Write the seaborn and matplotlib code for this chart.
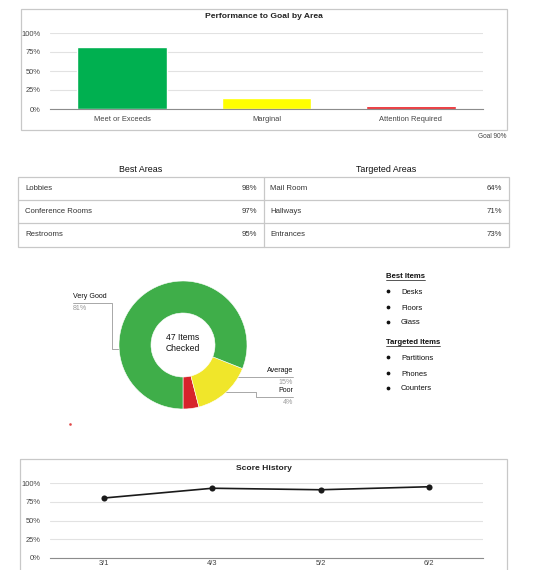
import matplotlib
matplotlib.use('Agg')
import matplotlib.pyplot as plt
import pandas as pd
import seaborn as sns
from matplotlib.patches import Rectangle

W, H = 547, 570

# ---- data ----
goal_cats = ['Meet or Exceeds', 'Marginal', 'Attention Required']
goal_vals = [0.81, 0.15, 0.04]
goal_colors = ['#00b050', '#ffff00', '#e8141b']

best_areas = ['Lobbies', 'Conference Rooms', 'Restrooms']
best_scores = [98, 97, 95]
target_areas = ['Mail Room', 'Hallways', 'Entrances']
target_scores = [64, 71, 73]

rating_labels = ['Poor', 'Average', 'Very Good']
rating_shares = [4, 15, 81]
rating_colors = ['#d7242b', '#f0e62a', '#3fae49']
items_checked = 47

best_items = ['Desks', 'Floors', 'Glass']
target_items = ['Partitions', 'Phones', 'Counters']

hist_dates = ['3/1', '4/3', '5/2', '6/2']
hist_scores = [0.80, 0.93, 0.91, 0.95]

pct_ticks = [0, 0.25, 0.5, 0.75, 1.0]
pct_labels = ['0%', '25%', '50%', '75%', '100%']

GRID = '#e2e2e2'
BOX = '#c8c8c8'
TXT = '#333333'
LEAD = '#9a9a9a'

sns.set_theme(style='white')
plt.rcParams['font.family'] = ['Liberation Sans', 'DejaVu Sans']

fig = plt.figure(figsize=(W / 100, H / 100), dpi=100)
fig.patch.set_facecolor('white')

# overlay axes in pixel coordinates for boxes, tables and labels
over = fig.add_axes([0, 0, 1, 1])
over.set_xlim(0, W)
over.set_ylim(H, 0)
over.axis('off')


def px_ax(x0, y0, x1, y1):
    return fig.add_axes([x0 / W, 1 - y1 / H, (x1 - x0) / W, (y1 - y0) / H])


def pct_axis(ax):
    ax.set_ylim(0, 1)
    ax.set_yticks(pct_ticks)
    ax.set_yticklabels(pct_labels)
    ax.yaxis.grid(True, color=GRID, lw=0.8)
    ax.set_axisbelow(True)
    for s in ['top', 'right', 'left']:
        ax.spines[s].set_visible(False)
    ax.spines['bottom'].set_color('#8c8c8c')
    ax.spines['bottom'].set_linewidth(0.8)
    ax.tick_params(axis='both', length=0, labelsize=5.4, labelcolor='#444444')
    ax.tick_params(axis='y', pad=7)
    ax.set_xlabel('')
    ax.set_ylabel('')
    ax.patch.set_alpha(0)


# ---- performance to goal ----
over.add_patch(Rectangle((21, 9), 486, 121, fill=False, ec=BOX, lw=0.9))
over.text(264, 17, 'Performance to Goal by Area', ha='center', va='center',
          fontsize=6.1, fontweight='bold', color='#222222')
ax1 = px_ax(50, 33, 483, 109)
df_goal = pd.DataFrame({'cat': goal_cats, 'val': goal_vals})
sns.barplot(data=df_goal, x='cat', y='val', hue='cat', palette=goal_colors,
            width=0.62, saturation=1, legend=False, ax=ax1)
pct_axis(ax1)
ax1.tick_params(axis='x', pad=5)
over.text(506, 136, 'Goal 90%', ha='right', va='center', fontsize=4.7, color='#444444')

# ---- tables ----
over.text(141, 169, 'Best Areas', ha='center', va='center', fontsize=6.4, color='#111111')
over.text(386, 169, 'Targeted Areas', ha='center', va='center', fontsize=6.4, color='#111111')
over.add_patch(Rectangle((18, 177), 491, 70, fill=False, ec=BOX, lw=0.9))
for yy in [200, 223]:
    over.plot([18, 509], [yy, yy], color=BOX, lw=0.9)
over.plot([264, 264], [177, 247], color=BOX, lw=0.9)
row_y = [188.5, 211.5, 235]
for i, yy in enumerate(row_y):
    over.text(25, yy, best_areas[i], ha='left', va='center', fontsize=5.6, color=TXT)
    over.text(257, yy, f'{best_scores[i]}%', ha='right', va='center', fontsize=5.6, color=TXT)
    over.text(270, yy, target_areas[i], ha='left', va='center', fontsize=5.6, color=TXT)
    over.text(502, yy, f'{target_scores[i]}%', ha='right', va='center', fontsize=5.6, color=TXT)

# ---- donut ----
ax2 = px_ax(119, 281, 247, 409)
ax2.pie(rating_shares, colors=rating_colors, startangle=-90, counterclock=True,
        radius=1, wedgeprops=dict(width=0.5, edgecolor='white', linewidth=0.4))
ax2.set_aspect('auto')
ax2.set_xlim(-1, 1)
ax2.set_ylim(-1, 1)
over.text(183, 343, f'{items_checked} Items\nChecked', ha='center', va='center',
          fontsize=6.2, color='#111111', linespacing=1.3)

# leader labels
over.text(73, 297, rating_labels[2], ha='left', va='center', fontsize=5.1, color='#111111')
over.text(73, 309, f'{rating_shares[2]}%', ha='left', va='center', fontsize=5.1, color='#999999')
over.plot([73, 112, 112, 137], [303, 303, 349, 349], color=LEAD, lw=0.6)
over.plot(137, 349, 'o', ms=1.3, color='#808080')

over.text(293, 371, rating_labels[1], ha='right', va='center', fontsize=5.1, color='#111111')
over.text(293, 382, f'{rating_shares[1]}%', ha='right', va='center', fontsize=5.1, color='#999999')
over.plot([293, 218], [376.5, 376.5], color=LEAD, lw=0.6)
over.plot(218, 376.5, 'o', ms=1.3, color='#808080')

over.text(293, 391, rating_labels[0], ha='right', va='center', fontsize=5.1, color='#111111')
over.text(293, 403, f'{rating_shares[0]}%', ha='right', va='center', fontsize=5.1, color='#999999')
over.plot([293, 256, 256, 189], [397, 397, 392.3, 392.3], color=LEAD, lw=0.6)
over.plot(189, 392.3, 'o', ms=1.3, color='#808080')

over.plot(70, 424, 's', ms=0.8, color='#e04848')

# ---- item lists ----
heads = []
heads.append(over.text(386, 276, 'Best Items', ha='left', va='center', fontsize=5.6,
                       fontweight='bold', color='#111111'))
for yy, name in zip([292, 308, 323], best_items):
    over.plot(388, yy - 0.8, 'o', ms=1.7, color='#111111')
    over.text(401, yy, name, ha='left', va='center', fontsize=5.5, color='#111111')
heads.append(over.text(386, 342, 'Targeted Items', ha='left', va='center', fontsize=5.6,
                       fontweight='bold', color='#111111'))
for yy, name in zip([358, 374, 389], target_items):
    over.plot(388, yy - 0.8, 'o', ms=1.7, color='#111111')
    over.text(401, yy, name, ha='left', va='center', fontsize=5.5, color='#111111')

# ---- score history ----
over.add_patch(Rectangle((20, 459), 487, 200, fill=False, ec=BOX, lw=0.9))
over.text(264, 468, 'Score History', ha='center', va='center',
          fontsize=6.1, fontweight='bold', color='#222222')
ax3 = px_ax(50, 483, 483, 558)
df_hist = pd.DataFrame({'date': hist_dates, 'score': hist_scores})
sns.lineplot(data=df_hist, x='date', y='score', marker='o', color='#1a1a1a',
             lw=1.2, markersize=4.4, markeredgewidth=0, ax=ax3)
pct_axis(ax3)
ax3.set_xlim(-0.5, 3.5)
ax3.tick_params(axis='x', pad=1.5)

# underline the list headers
fig.canvas.draw()
inv = over.transData.inverted()
for t in heads:
    bb = t.get_window_extent()
    (xa, ya), (xb, yb) = inv.transform([[bb.x0, bb.y0], [bb.x1, bb.y1]])
    over.plot([xa, xb], [ya + 0.3, ya + 0.3], color='#111111', lw=0.5)

fig.savefig('out.png', dpi=100, facecolor='white')
